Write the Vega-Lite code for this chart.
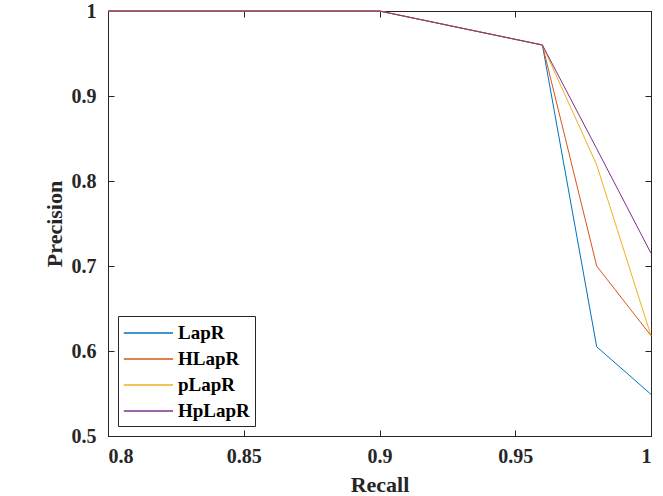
{
  "$schema": "https://vega.github.io/schema/vega-lite/v6.json",
  "width": 543,
  "height": 425,
  "autosize": {"type": "none"},
  "padding": {"left": 108, "top": 11, "right": 12, "bottom": 60},
  "config": {
    "view": {"stroke": null}
  },
  "data": {
    "values": [
      {"method": "LapR", "recall": 0.8, "precision": 1},
      {"method": "LapR", "recall": 0.9, "precision": 1},
      {"method": "LapR", "recall": 0.96, "precision": 0.96},
      {"method": "LapR", "recall": 0.98, "precision": 0.605},
      {"method": "LapR", "recall": 1.0, "precision": 0.549},
      {"method": "HLapR", "recall": 0.8, "precision": 1},
      {"method": "HLapR", "recall": 0.9, "precision": 1},
      {"method": "HLapR", "recall": 0.96, "precision": 0.96},
      {"method": "HLapR", "recall": 0.98, "precision": 0.70},
      {"method": "HLapR", "recall": 1.0, "precision": 0.618},
      {"method": "pLapR", "recall": 0.8, "precision": 1},
      {"method": "pLapR", "recall": 0.9, "precision": 1},
      {"method": "pLapR", "recall": 0.96, "precision": 0.96},
      {"method": "pLapR", "recall": 0.98, "precision": 0.819},
      {"method": "pLapR", "recall": 1.0, "precision": 0.618},
      {"method": "HpLapR", "recall": 0.8, "precision": 1},
      {"method": "HpLapR", "recall": 0.9, "precision": 1},
      {"method": "HpLapR", "recall": 0.96, "precision": 0.96},
      {"method": "HpLapR", "recall": 0.98, "precision": 0.838},
      {"method": "HpLapR", "recall": 1.0, "precision": 0.715}
    ]
  },
  "resolve": {"axis": {"x": "independent", "y": "independent"}},
  "layer": [
    {
      "mark": {"type": "point", "size": 0},
      "encoding": {
        "x": {
          "field": "recall", "type": "quantitative",
          "scale": {"domain": [0.8, 1], "nice": false, "zero": false},
          "axis": {"orient": "top", "title": null, "labels": false, "domain": true, "domainColor": "#262626", "grid": false, "tickSize": -6, "tickColor": "#262626", "values": [0.8, 0.85, 0.9, 0.95, 1]}
        },
        "y": {
          "field": "precision", "type": "quantitative",
          "scale": {"domain": [0.5, 1], "nice": false, "zero": false},
          "axis": {"orient": "right", "title": null, "labels": false, "domain": true, "domainColor": "#262626", "grid": false, "tickSize": -6, "tickColor": "#262626", "values": [0.5, 0.6, 0.7, 0.8, 0.9, 1]}
        }
      }
    },
    {
      "mark": {"type": "line", "strokeWidth": 1},
      "encoding": {
        "x": {
          "field": "recall", "type": "quantitative",
          "axis": {
            "title": "Recall", "values": [0.8, 0.85, 0.9, 0.95, 1], "format": "~g",
            "grid": false, "tickSize": -6, "tickColor": "#262626", "domainColor": "#262626",
            "labelPadding": 16, "titlePadding": 8,
            "labelFont": "Liberation Serif", "labelFontWeight": "bold", "labelFontSize": 20, "labelColor": "#262626",
            "titleFont": "Liberation Serif", "titleFontWeight": "bold", "titleFontSize": 22, "titleColor": "#262626"
          }
        },
        "y": {
          "field": "precision", "type": "quantitative",
          "axis": {
            "title": "Precision", "values": [0.5, 0.6, 0.7, 0.8, 0.9, 1], "format": "~g",
            "grid": false, "tickSize": -6, "tickColor": "#262626", "domainColor": "#262626",
            "labelPadding": 18, "titlePadding": 5,
            "labelFont": "Liberation Serif", "labelFontWeight": "bold", "labelFontSize": 20, "labelColor": "#262626",
            "titleFont": "Liberation Serif", "titleFontWeight": "bold", "titleFontSize": 22, "titleColor": "#262626"
          }
        },
        "color": {
          "field": "method", "type": "nominal",
          "scale": {"domain": ["LapR", "HLapR", "pLapR", "HpLapR"], "range": ["#0072BD", "#D95319", "#EDB120", "#7E2F8E"]},
          "legend": {
            "title": null,
            "orient": "bottom-left",
            "offset": 10,
            "strokeColor": "#262626",
            "fillColor": "white",
            "padding": 5,
            "symbolType": "M-1,0H3.4",
            "symbolSize": 500,
            "symbolStrokeWidth": 1.5,
            "labelFont": "Liberation Serif",
            "labelFontWeight": "bold",
            "labelFontSize": 19,
            "labelColor": "#000000",
            "labelOffset": 31,
            "rowPadding": 4
          }
        }
      }
    }
  ]
}
